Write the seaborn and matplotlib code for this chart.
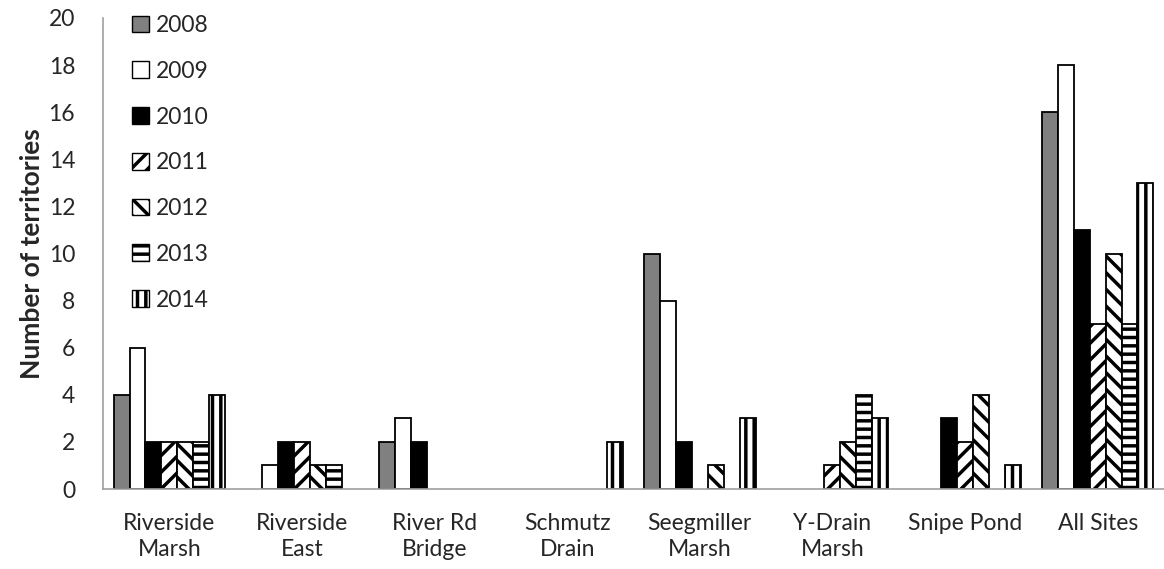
import matplotlib
matplotlib.use("Agg")
import matplotlib.pyplot as plt
from matplotlib.patches import Patch
import pandas as pd
import seaborn as sns

sites = ["Riverside\nMarsh", "Riverside\nEast", "River Rd\nBridge", "Schmutz\nDrain",
         "Seegmiller\nMarsh", "Y-Drain\nMarsh", "Snipe Pond", "All Sites"]
years = ["2008", "2009", "2010", "2011", "2012", "2013", "2014"]

y2008 = [4, 0, 2, 0, 10, 0, 0, 16]
y2009 = [6, 1, 3, 0, 8, 0, 0, 18]
y2010 = [2, 2, 2, 0, 2, 0, 3, 11]
y2011 = [2, 2, 0, 0, 0, 1, 2, 7]
y2012 = [2, 1, 0, 0, 1, 2, 4, 10]
y2013 = [2, 1, 0, 0, 0, 4, 0, 7]
y2014 = [4, 0, 0, 2, 3, 3, 1, 13]
series = [y2008, y2009, y2010, y2011, y2012, y2013, y2014]

colors = ["#808080", "white", "black", "white", "white", "white", "white"]
hatches = ["", "", "", "//", "\\\\", "--", "||"]

rows = []
for yr, vals in zip(years, series):
    for s, v in zip(sites, vals):
        rows.append({"site": s, "year": yr, "value": v})
df = pd.DataFrame(rows)

sns.set_theme(style="white")
plt.rcParams["font.family"] = ["Lato", "DejaVu Sans"]
plt.rcParams["hatch.linewidth"] = 2.5

fig = plt.figure(figsize=(11.64, 5.69), dpi=100)
ax = fig.add_axes([103 / 1164, 1 - 489 / 569, 1 - 103 / 1164, (489 - 18) / 569])

sns.barplot(data=df, x="site", y="value", hue="year", palette=colors,
            width=0.84, gap=0, ax=ax, legend=False, saturation=1,
            edgecolor="black", linewidth=1.3)

# hatch the patterned years, hide empty bars
for cont, h in zip(ax.containers, hatches):
    for bar in cont:
        bar.set_hatch(h)
        if bar.get_height() == 0:
            bar.set_linewidth(0)
            bar.set_hatch("")

fs = 16.5
ax.set_ylim(0, 20)
ax.set_xlim(-0.5, 7.5)
ax.set_yticks(range(0, 21, 2))
ax.set_xticks([i - 0.5 for i in range(9)])
ax.set_xticklabels([])
ax.set_xticks(range(8), minor=True)
ax.set_xticklabels(sites, minor=True, fontsize=fs, linespacing=1.3)
ax.tick_params(axis="x", which="minor", length=0, pad=17)
ax.tick_params(axis="x", which="major", length=8, color="#a0a0a0", width=1.2)
ax.tick_params(axis="y", length=5, color="#a0a0a0", width=1.2, labelsize=fs, pad=15)
ax.set_xlabel("")
ax.set_ylabel("Number of territories", fontsize=19, fontweight="bold", labelpad=3)

for side in ["top", "right"]:
    ax.spines[side].set_visible(False)
for side in ["left", "bottom"]:
    ax.spines[side].set_color("#a0a0a0")
    ax.spines[side].set_linewidth(1.2)

handles = [Patch(facecolor=c, edgecolor="black", hatch=h, linewidth=1.0)
           for c, h in zip(colors, hatches)]
ax.legend(handles, years, loc="upper left", bbox_to_anchor=(0.008, 1.05),
          frameon=False, fontsize=fs, handlelength=0.75, handleheight=0.75,
          handletextpad=0.3, labelspacing=1.08)

fig.savefig("out.png", dpi=100)
